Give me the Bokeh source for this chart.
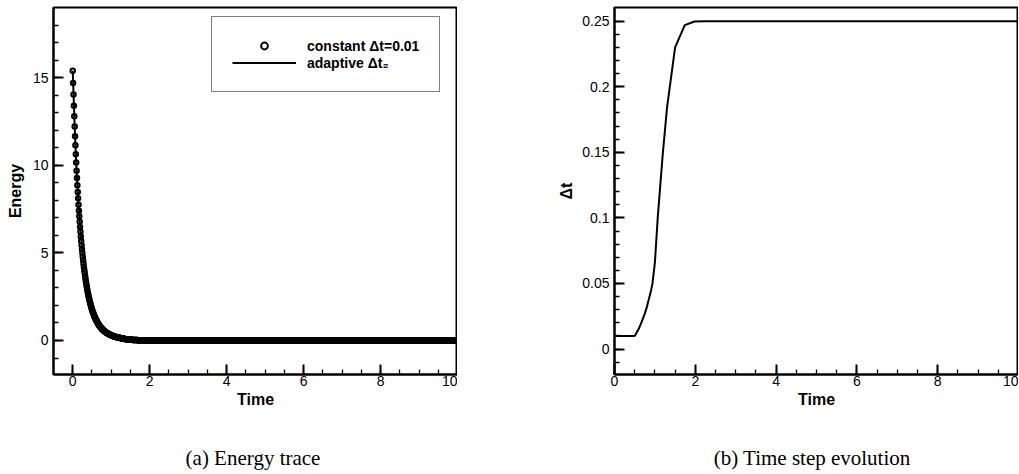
from bokeh.plotting import figure
from bokeh.layouts import row, column
from bokeh.models import (FixedTicker, CustomJSTickFormatter, Range1d,
                          Legend, LegendItem, Div, Spacer)
from bokeh.embed import file_html
from bokeh.resources import INLINE

# ---------------- data ----------------
# constant time step run: markers every 0.01 from t=0 to t=10
time_const = [round(i * 0.01, 2) for i in range(1001)]
energy_head = [
    15.39, 14.69, 14.03, 13.40, 12.79, 12.21, 11.66, 11.14, 10.63, 10.15,
    9.69, 9.27, 8.86, 8.48, 8.11, 7.75, 7.41, 7.09, 6.78, 6.48,
    6.20, 5.94, 5.68, 5.44, 5.21, 4.99, 4.78, 4.58, 4.38, 4.20,
    4.02, 3.86, 3.70, 3.55, 3.40, 3.26, 3.13, 3.00, 2.88, 2.76,
    2.65, 2.54, 2.44, 2.35, 2.26, 2.17, 2.08, 2.00, 1.92, 1.84,
    1.77, 1.70, 1.64, 1.58, 1.52, 1.46, 1.40, 1.35, 1.30, 1.25,
    1.20, 1.16, 1.12, 1.08, 1.04, 1.00, 0.96, 0.93, 0.89, 0.86,
    0.83, 0.80, 0.77, 0.74, 0.72, 0.69, 0.67, 0.65, 0.62, 0.60,
    0.58, 0.56, 0.54, 0.52, 0.51, 0.49, 0.47, 0.46, 0.44, 0.43,
    0.41, 0.40, 0.39, 0.37, 0.36, 0.35, 0.34, 0.33, 0.32, 0.31,
    0.30, 0.29, 0.28, 0.27, 0.26, 0.25, 0.25, 0.24, 0.23, 0.22,
    0.22, 0.21, 0.20, 0.20, 0.19, 0.19, 0.18, 0.18, 0.17, 0.17,
    0.160, 0.155, 0.150, 0.145, 0.140, 0.135, 0.130, 0.125, 0.120, 0.115,
    0.110, 0.106, 0.102, 0.098, 0.094, 0.090, 0.086, 0.082, 0.078, 0.074,
    0.070, 0.067, 0.064, 0.061, 0.058, 0.055, 0.053, 0.051, 0.049, 0.047,
    0.045, 0.043, 0.041, 0.039, 0.038, 0.036, 0.035, 0.033, 0.032, 0.031,
    0.030, 0.029, 0.028, 0.027, 0.026, 0.025, 0.024, 0.023, 0.022, 0.021,
    0.020, 0.019, 0.018, 0.017, 0.016, 0.016, 0.015, 0.014, 0.013, 0.013,
    0.012, 0.012, 0.011, 0.011, 0.010, 0.010, 0.009, 0.009, 0.009, 0.008,
    0.008, 0.008, 0.007, 0.007, 0.007, 0.006, 0.006, 0.006, 0.006, 0.005,
    0.005,
]
energy_tail = [0.0] * 800
energy_const = energy_head + energy_tail

# adaptive run: energy at the adaptive steps
adaptive_E_time = [0.0, 0.05, 0.1, 0.15, 0.2, 0.3, 0.4, 0.5, 0.6, 0.7, 0.8,
                   0.9, 1.0, 1.07, 1.19, 1.30, 1.50, 1.74, 1.98, 2.23, 10.0]
adaptive_E = [15.39, 12.21, 9.69, 7.75, 6.20, 4.02, 2.65, 1.77, 1.20, 0.83,
              0.58, 0.41, 0.30, 0.24, 0.17, 0.11, 0.045, 0.016, 0.005, 0.0,
              0.0]

# adaptive run: time step size
adaptive_time = [0.0, 0.5, 0.6, 0.65, 0.7, 0.75, 0.8, 0.85, 0.9, 0.94, 1.0,
                 1.07, 1.19, 1.30, 1.50, 1.74, 1.98, 2.23, 10.0]
adaptive_dt = [0.01, 0.01, 0.0155, 0.019, 0.023, 0.027, 0.032, 0.038, 0.044,
               0.05, 0.066, 0.10, 0.147, 0.184, 0.230, 0.247, 0.2497, 0.25,
               0.25]

x_major = [0, 2, 4, 6, 8, 10]
x_minor = [i * 0.5 for i in range(0, 21)]
e_major = [0, 5, 10, 15]
e_minor = list(range(-1, 19))
dt_major = [0, 0.05, 0.1, 0.15, 0.2, 0.25]
dt_minor = [round(i * 0.01, 2) for i in range(-1, 26)]

captions = ["(a) Energy trace", "(b) Time step evolution"]

label_font = "Liberation Sans"
caption_font = "Liberation Serif"


def style(p, xmaj, xmin, ymaj, ymin, xlabel, ylabel, y_standoff):
    p.grid.visible = False
    p.outline_line_color = "black"
    p.outline_line_width = 2
    p.background_fill_color = "white"
    p.border_fill_color = "white"
    p.xaxis.ticker = FixedTicker(ticks=xmaj, minor_ticks=xmin)
    p.yaxis.ticker = FixedTicker(ticks=ymaj, minor_ticks=ymin)
    for ax in (p.xaxis, p.yaxis):
        ax.axis_line_width = 2
        ax.axis_line_color = "black"
        ax.major_tick_in = 10
        ax.major_tick_out = 0
        ax.minor_tick_in = 5
        ax.minor_tick_out = 0
        ax.major_tick_line_width = 2
        ax.minor_tick_line_width = 1.3
        ax.major_tick_line_color = "black"
        ax.minor_tick_line_color = "black"
        ax.major_label_text_font = label_font
        ax.major_label_text_font_size = "14px"
        ax.major_label_text_color = "black"
        ax.axis_label_text_font = label_font
        ax.axis_label_text_font_size = "16px"
        ax.axis_label_text_font_style = "bold"
        ax.axis_label_text_color = "black"
    p.xaxis.axis_label = xlabel
    p.yaxis.axis_label = ylabel
    p.xaxis.major_label_standoff = 1
    p.yaxis.major_label_standoff = 5
    p.xaxis.axis_label_standoff = 2
    p.yaxis.axis_label_standoff = y_standoff


# ---------------- left: energy trace ----------------
p1 = figure(width=457, height=446, x_range=Range1d(-0.5, 10.0),
            y_range=Range1d(-1.94, 19.0), output_backend="svg",
            toolbar_location=None, min_border_left=53, min_border_right=0,
            min_border_top=7, min_border_bottom=72)
style(p1, x_major, x_minor, e_major, e_minor, "Time", "Energy", 6)

r_pts = p1.scatter(time_const, energy_const, marker="circle", size=4.5,
                   fill_color="white", line_color="black", line_width=2)
r_line = p1.line(adaptive_E_time, adaptive_E, line_color="black",
                 line_width=2)

legend = Legend(items=[LegendItem(label="constant Δt=0.01", renderers=[r_pts]),
                       LegendItem(label="adaptive Δt₂", renderers=[r_line])],
                location=(158, 282), orientation="vertical")
legend.label_text_font = label_font
legend.label_text_font_style = "bold"
legend.label_text_font_size = "14px"
legend.label_text_color = "black"
legend.glyph_width = 64
legend.glyph_height = 17
legend.label_height = 17
legend.label_standoff = 11
legend.padding = 20
legend.spacing = 0
legend.margin = 0
legend.border_line_color = "black"
legend.border_line_width = 1
legend.background_fill_color = "white"
legend.background_fill_alpha = 1
p1.add_layout(legend)

# ---------------- right: time step evolution ----------------
p2 = figure(width=561, height=446, x_range=Range1d(0, 10.0),
            y_range=Range1d(-0.0194, 0.2604), output_backend="svg",
            toolbar_location=None, min_border_left=157, min_border_right=0,
            min_border_top=7, min_border_bottom=72)
style(p2, x_major, x_minor, dt_major, dt_minor, "Time", "Δt", 4)
p2.yaxis.formatter = CustomJSTickFormatter(
    code="return (Math.round(tick*100)/100).toString();")
p2.line(adaptive_time, adaptive_dt, line_color="black", line_width=2)

# ---------------- sub-captions ----------------
cap_style = {"font-family": caption_font, "font-size": "21px",
             "line-height": "24px", "text-align": "center",
             "color": "black"}
cap_a = Div(text=captions[0], width=506, height=24, margin=0,
            styles=cap_style)
gap = Spacer(width=104, height=24, margin=0)
cap_b = Div(text=captions[1], width=404, height=24, margin=0,
            styles=cap_style)

layout = column(row(p1, p2), row(cap_a, gap, cap_b))
open("out.html", "w").write(file_html(layout, INLINE))
